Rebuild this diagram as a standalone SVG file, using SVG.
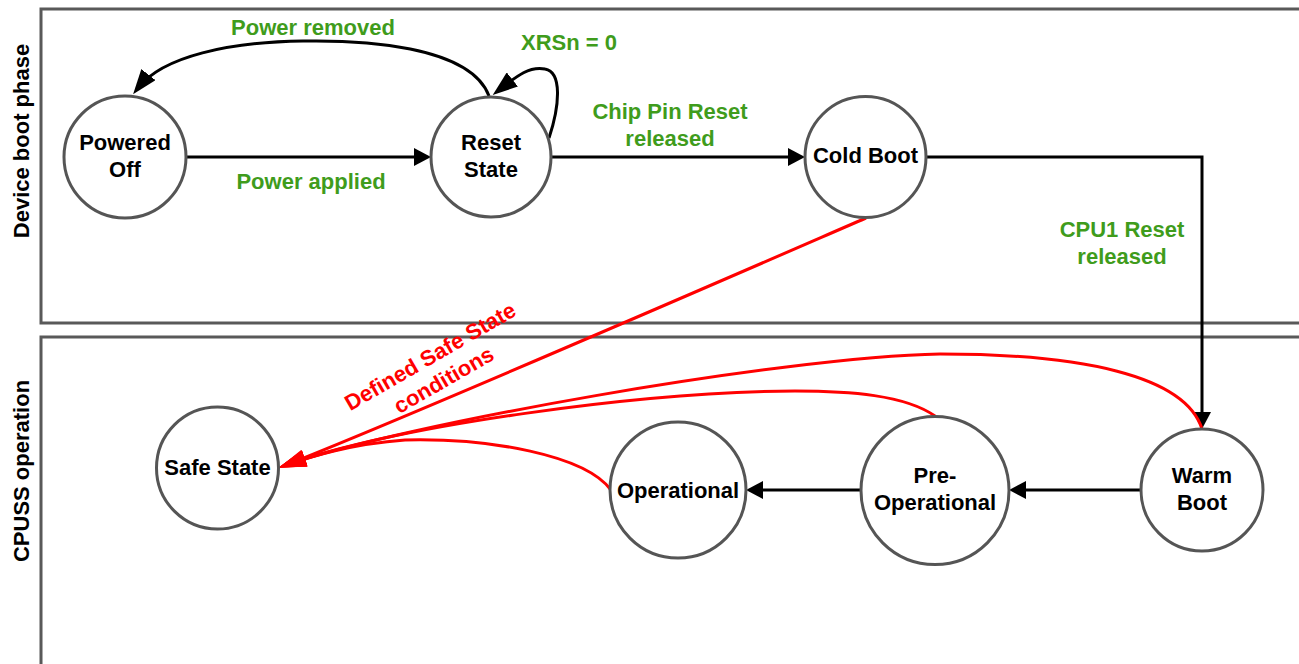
<svg xmlns="http://www.w3.org/2000/svg" width="1299" height="664" viewBox="0 0 1299 664">
<style>
.lane{fill:none;stroke:#595959;stroke-width:3}
.lanelbl{font-family:"Liberation Sans",Arial,sans-serif;font-weight:bold;font-size:22px;fill:#000;text-anchor:middle}
.node{fill:#fff;stroke:#555;stroke-width:3}
.nt{font-family:"Liberation Sans",Arial,sans-serif;font-weight:bold;font-size:22px;fill:#000;text-anchor:middle}
.gl{font-family:"Liberation Sans",Arial,sans-serif;font-weight:bold;font-size:22px;fill:#3f9c1c;text-anchor:middle}
.rl{font-family:"Liberation Sans",Arial,sans-serif;font-weight:bold;font-size:22px;fill:#ff0000;text-anchor:middle}
.k{fill:none;stroke:#000;stroke-width:3}
.r{fill:none;stroke:#ff0000;stroke-width:3}
</style>
<defs>
<marker id="aS" markerUnits="userSpaceOnUse" markerWidth="17" markerHeight="18" viewBox="0 0 17 18" refX="9" refY="9" orient="auto"><path d="M0,0 L17,9 L0,18 z" fill="#000"/></marker>
<marker id="aL" markerUnits="userSpaceOnUse" markerWidth="25" markerHeight="18" viewBox="0 0 25 18" refX="17" refY="9" orient="auto"><path d="M0,0 L25,9 L0,18 z" fill="#000"/></marker>
<marker id="aR" markerUnits="userSpaceOnUse" markerWidth="28" markerHeight="17" viewBox="0 0 28 17" refX="20" refY="8.5" orient="auto"><path d="M0,0 L28,8.5 L0,17 z" fill="#ff0000"/></marker>
</defs>
<rect width="1299" height="664" fill="#fff"/>
<g id="lanes">
<rect class="lane" x="41" y="9" width="1300" height="314"/>
<rect class="lane" x="41" y="337" width="1300" height="400"/>
<text class="lanelbl" transform="translate(29,141) rotate(-90)">Device boot phase</text>
<text class="lanelbl" transform="translate(29,471) rotate(-90)">CPUSS operation</text>
</g>
<g id="connectors">
<path class="k" d="M186 157 H423" marker-end="url(#aS)"/>
<path class="k" d="M551 157 H797" marker-end="url(#aS)"/>
<path class="k" d="M926 157 H1202 V421" marker-end="url(#aS)"/>
<path class="k" d="M1142 490 H1017" marker-end="url(#aS)"/>
<path class="k" d="M861 490 H754" marker-end="url(#aS)"/>
<path class="k" d="M489 96 C470 45 360 40 303 41 C230 42 163 56 138 88" marker-end="url(#aL)"/>
<path class="k" d="M549 138 C560 105 562 72 545 69 C530 66 518 75 499 90" marker-end="url(#aL)"/>
<path class="r" d="M866 218 C700 290 420 412 286 465" marker-end="url(#aR)"/>
<path class="r" d="M1202 429 C1185 375 1080 354 940 354 C780 357 400 425 286 465" marker-end="url(#aR)"/>
<path class="r" d="M935 416 C905 395 850 391 795 391 C640 392 400 425 286 465" marker-end="url(#aR)"/>
<path class="r" d="M611 490 C585 455 490 438 405 440 C350 444 310 457 286 465" marker-end="url(#aR)"/>
<text class="gl" x="313" y="35">Power removed</text>
<text class="gl" x="569" y="50">XRSn = 0</text>
<text class="gl" x="311" y="189">Power applied</text>
<text class="gl" x="670" y="119">Chip Pin Reset</text>
<text class="gl" x="670" y="146">released</text>
<text class="gl" x="1122" y="237">CPU1 Reset</text>
<text class="gl" x="1122" y="264">released</text>
<g transform="translate(434,363) rotate(-30)">
<text class="rl" x="0" y="0">Defined Safe State</text>
<text class="rl" x="0" y="27">conditions</text>
</g>
</g>
<g id="powered-off"><circle class="node" cx="125" cy="157" r="61"/><text class="nt" x="125" y="150">Powered</text><text class="nt" x="125" y="177">Off</text></g>
<g id="reset-state"><circle class="node" cx="491" cy="157" r="60"/><text class="nt" x="491" y="150">Reset</text><text class="nt" x="491" y="177">State</text></g>
<g id="cold-boot"><circle class="node" cx="865.5" cy="157" r="60.5"/><text class="nt" x="865.5" y="163">Cold Boot</text></g>
<g id="safe-state"><circle class="node" cx="217.5" cy="468" r="61"/><text class="nt" x="217.5" y="475">Safe State</text></g>
<g id="operational"><circle class="node" cx="678" cy="490" r="68"/><text class="nt" x="678" y="498">Operational</text></g>
<g id="pre-operational"><circle class="node" cx="935" cy="490.5" r="74"/><text class="nt" x="935" y="483">Pre-</text><text class="nt" x="935" y="510">Operational</text></g>
<g id="warm-boot"><circle class="node" cx="1202" cy="490" r="61"/><text class="nt" x="1202" y="483">Warm</text><text class="nt" x="1202" y="510">Boot</text></g>
</svg>
